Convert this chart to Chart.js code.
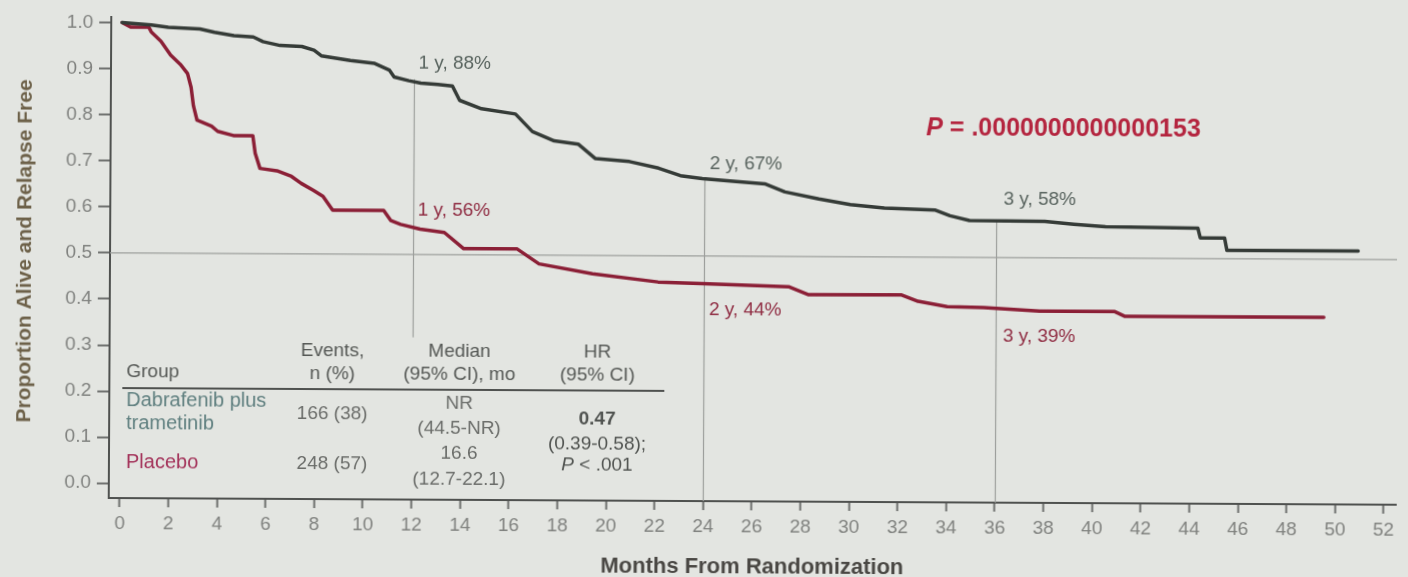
<!DOCTYPE html>
<html>
<head>
<meta charset="utf-8">
<title>Relapse-free survival</title>
<script src="https://cdn.jsdelivr.net/npm/chart.js@4.4.1/dist/chart.umd.min.js"></script>
<style>
  html, body { margin: 0; padding: 0; background: #e3e5e1; overflow: hidden; }
  #wrap { width: 1408px; height: 577px; transform: rotate(0.3deg); transform-origin: 110px 260px; }
  canvas { display: block; }
</style>
</head>
<body>
<div id="wrap"><canvas id="km" width="1408" height="577"></canvas></div>
<script>
// Kaplan-Meier estimates: months from randomization and proportion alive and relapse free
const monthsDT = [0, 1.2, 1.9, 3.2, 3.8, 4.6, 5.4, 5.8, 6.5, 7.4, 7.9, 8.2, 9.4, 10.4, 11.0, 11.2, 11.8, 12.3, 13.0, 13.6, 13.9, 14.8, 16.2, 16.9, 17.8, 18.8, 19.5, 20.9, 22.1, 23.0, 23.9, 25.3, 26.5, 27.3, 28.7, 30.0, 31.4, 33.5, 34.1, 34.9, 38.0, 39.2, 40.5, 44.3, 44.4, 45.4, 45.5, 50.9];
const survDT   = [1.0, 0.995, 0.99, 0.987, 0.98, 0.973, 0.97, 0.96, 0.952, 0.95, 0.942, 0.93, 0.92, 0.914, 0.9, 0.885, 0.877, 0.872, 0.869, 0.866, 0.835, 0.817, 0.806, 0.768, 0.748, 0.741, 0.71, 0.704, 0.69, 0.674, 0.668, 0.662, 0.657, 0.64, 0.625, 0.613, 0.606, 0.602, 0.59, 0.58, 0.579, 0.573, 0.568, 0.566, 0.545, 0.545, 0.518, 0.518];

const monthsPBO = [0, 0.35, 1.1, 1.2, 1.6, 2.0, 2.4, 2.7, 2.85, 2.95, 3.1, 3.7, 3.95, 4.6, 5.4, 5.5, 5.7, 6.4, 7.0, 7.4, 7.9, 8.3, 8.7, 10.8, 11.1, 11.5, 12.3, 13.3, 14.1, 16.3, 17.2, 19.4, 22.1, 23.9, 27.5, 28.3, 32.1, 32.8, 34.0, 35.5, 37.8, 40.9, 41.3, 49.5];
const survPBO   = [1.0, 0.99, 0.99, 0.98, 0.96, 0.93, 0.91, 0.89, 0.86, 0.82, 0.789, 0.776, 0.765, 0.756, 0.756, 0.718, 0.685, 0.68, 0.668, 0.653, 0.638, 0.625, 0.595, 0.595, 0.573, 0.565, 0.555, 0.548, 0.513, 0.513, 0.481, 0.46, 0.443, 0.44, 0.434, 0.417, 0.418, 0.404, 0.393, 0.391, 0.384, 0.384, 0.374, 0.374];

// Axis ticks
const xTicks = [0, 2, 4, 6, 8, 10, 12, 14, 16, 18, 20, 22, 24, 26, 28, 30, 32, 34, 36, 38, 40, 42, 44, 46, 48, 50, 52];
const yTicks = [0, 0.1, 0.2, 0.3, 0.4, 0.5, 0.6, 0.7, 0.8, 0.9, 1.0];

// Landmark estimates at 1, 2 and 3 years
const landmarkMonths = [12, 24, 36];
const landmarkDT = [0.88, 0.67, 0.58];
const landmarkPBO = [0.56, 0.44, 0.39];
const landmarkTextDT = ['1 y, 88%', '2 y, 67%', '3 y, 58%'];
const landmarkTextPBO = ['1 y, 56%', '2 y, 44%', '3 y, 39%'];
const landmarkFloor = [0.32, null, null];
const medianLine = 0.5;

// Summary table
const tableHeader = [['Events,', 'n (%)'], ['Median', '(95% CI), mo'], ['HR', '(95% CI)']];
const tableGroups = [['Dabrafenib plus', 'trametinib'], ['Placebo']];
const tableEvents = ['166 (38)', '248 (57)'];
const tableMedians = [['NR', '(44.5-NR)'], ['16.6', '(12.7-22.1)']];
const hazardRatio = ['0.47', '(0.39-0.58);'];
const hazardP = '.001';
const logRankP = '.0000000000000153';

const yTitle = 'Proportion Alive and Relapse Free';
const xTitle = 'Months From Randomization';

const FONT = "'Liberation Sans', Arial, Helvetica, sans-serif";
const COL_DT = '#353b37';
const COL_PBO = '#8b1f36';

function richText(ctx, parts, x, y, align, size, weight, color) {
  const fontFor = p => `${p.italic ? 'italic ' : ''}${weight} ${size}px ${FONT}`;
  let total = 0;
  parts.forEach(p => { ctx.font = fontFor(p); total += ctx.measureText(p.t).width; });
  let cx = align === 'center' ? x - total / 2 : x;
  ctx.fillStyle = color;
  ctx.textAlign = 'left';
  ctx.textBaseline = 'middle';
  parts.forEach(p => { ctx.font = fontFor(p); ctx.fillText(p.t, cx, y); cx += ctx.measureText(p.t).width; });
}

const annotate = {
  id: 'annotate',
  beforeDatasetsDraw(chart) {
    const { ctx, chartArea: a, scales: { x, y } } = chart;
    ctx.save();
    ctx.strokeStyle = '#9d9f9c';
    ctx.lineWidth = 1.2;
    const y5 = y.getPixelForValue(medianLine);
    ctx.beginPath(); ctx.moveTo(a.left, y5); ctx.lineTo(a.right, y5); ctx.stroke();
    landmarkMonths.forEach((m, i) => {
      const px = Math.round(x.getPixelForValue(m)) + 0.5;
      const top = y.getPixelForValue(landmarkDT[i]);
      const bot = landmarkFloor[i] == null ? a.bottom : y.getPixelForValue(landmarkFloor[i]);
      ctx.beginPath(); ctx.moveTo(px, top); ctx.lineTo(px, bot); ctx.stroke();
    });
    ctx.restore();
  },
  afterDatasetsDraw(chart) {
    const { ctx, chartArea: a, scales: { x, y } } = chart;
    ctx.save();
    ctx.textBaseline = 'middle';
    ctx.textAlign = 'left';
    ctx.font = `19px ${FONT}`;

    // landmark labels, placed just right of each landmark line
    const dtLabelAt = [[12.2, 0.915], [24.2, 0.70], [36.3, 0.626]];
    const pboLabelAt = [[12.2, 0.596], [24.2, 0.384], [36.3, 0.329]];
    landmarkTextDT.forEach((t, i) => {
      ctx.fillStyle = '#59645f';
      ctx.fillText(t, x.getPixelForValue(dtLabelAt[i][0]), y.getPixelForValue(dtLabelAt[i][1]));
    });
    landmarkTextPBO.forEach((t, i) => {
      ctx.fillStyle = '#8f2c42';
      ctx.fillText(t, x.getPixelForValue(pboLabelAt[i][0]), y.getPixelForValue(pboLabelAt[i][1]));
    });

    // log-rank p value
    richText(ctx, [{ t: 'P', italic: true }, { t: ' = ' + logRankP }],
      x.getPixelForValue(33.1), y.getPixelForValue(0.78), 'left', 25, 'bold', '#b4253f');

    // summary table, laid out from the lower-left corner of the plot
    const L = a.left, B = a.bottom;
    const colEvents = L + 223, colMedian = L + 350, colHR = L + 488, colGroup = L + 17;
    const hdr1 = B - 148, hdr2 = B - 125;
    ctx.font = `19px ${FONT}`;
    ctx.fillStyle = '#555855';
    ctx.textAlign = 'left';
    ctx.fillText('Group', colGroup, hdr2 - 1);
    ctx.textAlign = 'center';
    [colEvents, colMedian, colHR].forEach((cx, i) => {
      ctx.fillText(tableHeader[i][0], cx, hdr1);
      ctx.fillText(tableHeader[i][1], cx, hdr2);
    });
    ctx.strokeStyle = '#4f514f';
    ctx.lineWidth = 2;
    ctx.beginPath(); ctx.moveTo(L + 13, B - 110); ctx.lineTo(L + 555, B - 110); ctx.stroke();

    // group rows
    ctx.textAlign = 'left';
    ctx.font = `20px ${FONT}`;
    ctx.fillStyle = '#5f7f7f';
    ctx.fillText(tableGroups[0][0], colGroup, B - 98);
    ctx.fillText(tableGroups[0][1], colGroup, B - 75);
    ctx.fillStyle = '#a3335a';
    ctx.fillText(tableGroups[1][0], colGroup, B - 36);

    ctx.font = `19px ${FONT}`;
    ctx.textAlign = 'center';
    ctx.fillStyle = '#6b6d6a';
    ctx.fillText(tableEvents[0], colEvents, B - 85);
    ctx.fillText(tableEvents[1], colEvents, B - 35);
    ctx.fillText(tableMedians[0][0], colMedian, B - 96);
    ctx.fillText(tableMedians[0][1], colMedian, B - 71);
    ctx.fillText(tableMedians[1][0], colMedian, B - 46);
    ctx.fillText(tableMedians[1][1], colMedian, B - 20);

    ctx.fillStyle = '#505350';
    ctx.font = `bold 19px ${FONT}`;
    ctx.fillText(hazardRatio[0], colHR, B - 81);
    ctx.font = `19px ${FONT}`;
    ctx.fillText(hazardRatio[1], colHR, B - 56);
    richText(ctx, [{ t: 'P', italic: true }, { t: ' < ' + hazardP }], colHR, B - 35, 'center', 19, 'normal', '#505350');
    ctx.restore();
  },
  afterDraw(chart) {
    // axis titles
    const { ctx, chartArea: a } = chart;
    ctx.save();
    ctx.font = `bold 21px ${FONT}`;
    ctx.fillStyle = '#6d6149';
    ctx.textAlign = 'center';
    ctx.textBaseline = 'middle';
    ctx.translate(25, a.top + 234);
    ctx.rotate(-Math.PI / 2);
    ctx.fillText(yTitle, 0, 0);
    ctx.restore();

    ctx.save();
    ctx.font = `bold 22px ${FONT}`;
    ctx.fillStyle = '#4a4844';
    ctx.textAlign = 'center';
    ctx.textBaseline = 'middle';
    ctx.fillText(xTitle, (a.left + a.right) / 2, a.bottom + 66);
    ctx.restore();
  }
};

new Chart(document.getElementById('km').getContext('2d'), {
  type: 'line',
  data: {
    datasets: [
      {
        label: 'Dabrafenib plus trametinib',
        data: monthsDT.map((m, i) => ({ x: m, y: survDT[i] })),
        borderColor: COL_DT, borderWidth: 3.5, pointRadius: 0, tension: 0, fill: false,
        borderJoinStyle: 'round', borderCapStyle: 'round'
      },
      {
        label: 'Placebo',
        data: monthsPBO.map((m, i) => ({ x: m, y: survPBO[i] })),
        borderColor: COL_PBO, borderWidth: 3.5, pointRadius: 0, tension: 0, fill: false,
        borderJoinStyle: 'round', borderCapStyle: 'round'
      }
    ]
  },
  options: {
    responsive: false,
    animation: false,
    devicePixelRatio: 1,
    layout: { padding: { left: 0, right: 11, top: 14, bottom: 0 }, autoPadding: false },
    plugins: { legend: { display: false }, tooltip: { enabled: false } },
    scales: {
      x: {
        type: 'linear',
        min: -0.45,
        max: 52.5,
        afterFit: s => { s.height = 79; },
        afterBuildTicks: s => { s.ticks = xTicks.map(v => ({ value: v })); },
        grid: { drawOnChartArea: false, drawTicks: true, tickLength: 9, tickWidth: 2, tickColor: '#6f716f' },
        border: { display: true, color: '#4f514f', width: 2 },
        ticks: { font: { family: FONT, size: 19 }, color: '#80827f', padding: 5, maxRotation: 0, autoSkip: false }
      },
      y: {
        type: 'linear',
        min: -0.032,
        max: 1.011,
        afterFit: s => { s.width = 110; },
        afterBuildTicks: s => { s.ticks = yTicks.map(v => ({ value: v })); },
        grid: { drawOnChartArea: false, drawTicks: true, tickLength: 12, tickWidth: 2, tickColor: '#6f716f' },
        border: { display: true, color: '#4f514f', width: 2 },
        ticks: { font: { family: FONT, size: 19 }, color: '#80827f', padding: 6, callback: v => v.toFixed(1) }
      }
    }
  },
  plugins: [annotate]
});
</script>
</body>
</html>
